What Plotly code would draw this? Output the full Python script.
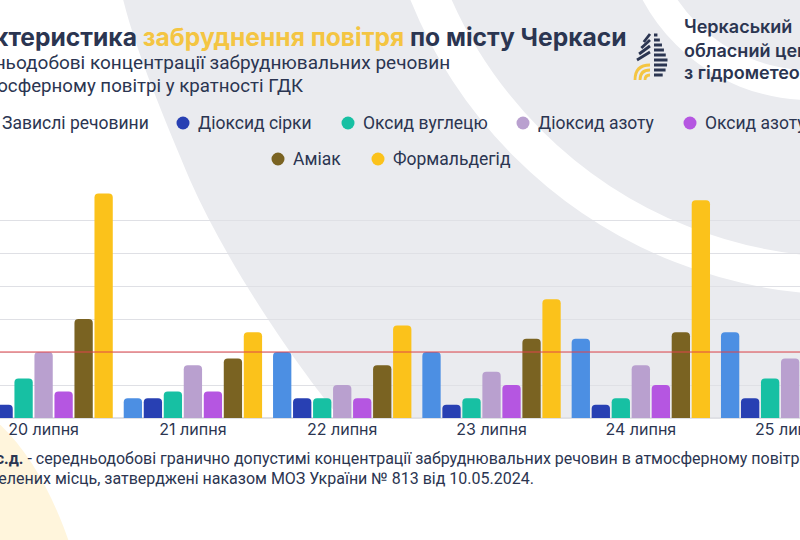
import plotly.graph_objects as go

days = ["20 липня", "21 липня", "22 липня", "23 липня", "24 липня", "25 липня"]
names = ["Завислі речовини", "Діоксид сірки", "Оксид вуглецю", "Діоксид азоту",
         "Оксид азоту", "Аміак", "Формальдегід"]
suspended = [0.6, 0.3, 1.0, 1.0, 1.2, 1.3]
so2 = [0.2, 0.3, 0.3, 0.2, 0.2, 0.3]
co = [0.6, 0.4, 0.3, 0.3, 0.3, 0.6]
no2 = [1.0, 0.8, 0.5, 0.7, 0.8, 0.9]
no = [0.4, 0.4, 0.3, 0.5, 0.5, 0.5]
nh3 = [1.5, 0.9, 0.8, 1.2, 1.3, 1.1]
hcho = [3.4, 1.3, 1.4, 1.8, 3.3, 1.6]
gdk = 1.0  # рівень ГДК

colors = ["#4C8FE3", "#2840B3", "#17C0A3", "#B9A0CF", "#B556E1", "#7A6322", "#FBC21B"]
navy = "#2B3551"

W, H, T, B = 800, 540, 187, 122


# пікселі -> paper
def X(p):
    return p / W


def Y(p):
    return (H - B - p) / (H - T - B)


def P(x, y):
    return f"{X(x):.5f},{Y(y):.5f}"


fig = go.Figure()
for name, vals, c in zip(names, [suspended, so2, co, no2, no, nh3, hcho], colors):
    fig.add_trace(go.Bar(x=days, y=vals, name=name, marker_color=c, marker_line_width=0))

shapes = []
# фон
shapes.append(dict(type="path", xref="paper", yref="paper", layer="below", line_width=0,
                   fillcolor="#EAEBEF",
                   path=f"M {P(122,-5)} L {P(805,-5)} L {P(805,418)} L {P(340,418)} "
                        f"C {P(300,370)} {P(230,270)} {P(190,180)} C {P(165,120)} {P(135,50)} {P(122,-5)} Z"))
for cx, cy, r, lw in [(848, -177, 453, 38), (810, -90, 175, 30)]:
    shapes.append(dict(type="circle", xref="paper", yref="paper", layer="below",
                       x0=X(cx - r), x1=X(cx + r), y0=Y(cy + r), y1=Y(cy - r),
                       line=dict(color="white", width=lw)))
shapes.append(dict(type="path", xref="paper", yref="paper", layer="below", line_width=0,
                   fillcolor="#FFF5DC",
                   path=f"M {P(-5,420)} C {P(30,450)} {P(55,500)} {P(70,545)} L {P(-5,545)} Z"))

# лінія ГДК
shapes.append(dict(type="line", xref="paper", yref="y", x0=0, x1=1, y0=gdk, y1=gdk,
                   layer="above", line=dict(color="#E0454A", width=1.2)))


# логотип (спрощено)
def half(y):
    if y < 60:
        return 16 * max((y - 27) / 33, 0) ** 0.7
    return 16 * max(1 - ((y - 60) / 21) ** 2, 0) ** 0.5


for yy in range(35, 80, 5):
    shapes.append(dict(type="line", xref="paper", yref="paper", layer="above",
                       x0=X(654), x1=X(652 + half(yy) - 0.5), y0=Y(yy), y1=Y(yy),
                       line=dict(color=navy, width=3)))
for yy in [37, 43, 49, 55]:
    x_start = 652 - half(yy + 5) + 1
    shapes.append(dict(type="line", xref="paper", yref="paper", layer="above",
                       x0=X(x_start), x1=X(650), y0=Y(yy + 5), y1=Y(yy - 3),
                       line=dict(color=navy, width=2.8)))
for r in [5, 10, 15]:
    shapes.append(dict(type="path", xref="paper", yref="paper", layer="above",
                       path=f"M {P(650 - r, 80)} Q {P(650 - r, 80 - r)} {P(650, 80 - r)}",
                       line=dict(color="#F4C542", width=2.8)))

# легенда
leg_font = dict(family="Roboto", size=17.5, color=navy)
row1 = [-14, 183, 348, 523, 690]
row2 = [278, 378]
ann = []
for i, mx in enumerate(row1 + row2):
    my = 123 if i < len(row1) else 159
    shapes.append(dict(type="circle", xref="paper", yref="paper", layer="above",
                       x0=X(mx - 6.5), x1=X(mx + 6.5), y0=Y(my - 6.5), y1=Y(my + 6.5),
                       fillcolor=colors[i], line_width=0))
    ann.append(dict(text=names[i], x=X(max(mx + 13, 0)), y=Y(my), xanchor="left", yanchor="middle",
                    font=leg_font))

ann.append(dict(text="<b>Характеристика <span style='color:#F4C542'>забруднення повітря</span> по місту Черкаси</b>",
                x=X(629), y=Y(37), xanchor="right", yanchor="middle",
                font=dict(family="Inter", size=24.6, color=navy)))
ann.append(dict(text="Середньодобові концентрації забруднювальних речовин",
                x=X(452), y=Y(62), xanchor="right", yanchor="middle",
                font=dict(family="Roboto", size=19, color=navy)))
ann.append(dict(text="в атмосферному повітрі у кратності ГДК",
                x=X(305), y=Y(86), xanchor="right", yanchor="middle",
                font=dict(family="Roboto", size=18.7, color=navy)))
for txt, yy in [("Черкаський", 27), ("обласний центр", 50), ("з гідрометеорології", 72)]:
    ann.append(dict(text=txt, x=X(682), y=Y(yy), xanchor="left", yanchor="middle",
                    font=dict(family="Inter", size=18, color=navy, weight=600)))
ann.append(dict(text="<b>ГДКс.д.</b> - середньодобові гранично допустимі концентрації забруднювальних речовин в атмосферному повітрі",
                x=X(-36), y=Y(458), xanchor="left", yanchor="middle",
                font=dict(family="Roboto", size=16, color=navy)))
ann.append(dict(text="населених місць, затверджені наказом МОЗ України № 813 від 10.05.2024.",
                x=X(536), y=Y(478), xanchor="right", yanchor="middle",
                font=dict(family="Roboto", size=16, color=navy)))

for a in ann:
    a.update(xref="paper", yref="paper", showarrow=False)

fig.update_layout(
    width=W, height=H,
    margin=dict(l=0, r=0, t=T, b=B, autoexpand=False),
    paper_bgcolor="white", plot_bgcolor="rgba(0,0,0,0)",
    barmode="group", bargap=0.062, bargroupgap=0.085, barcornerradius=4,
    showlegend=False,
    shapes=shapes, annotations=ann,
    xaxis=dict(type="category", range=[-0.292, 5.066], showgrid=False, ticks="",
               automargin=False,
               tickfont=dict(family="Inter", size=16, color=navy), fixedrange=True),
    yaxis=dict(range=[0, 3.5], dtick=0.5, showticklabels=False, gridcolor="#DFE0E5",
               automargin=False,
               gridwidth=1, zeroline=True, zerolinecolor="#DFE0E5", fixedrange=True),
)

fig.write_html("out.html", config={"displayModeBar": False},
               post_script="document.body.style.margin='0px';document.body.style.overflow='hidden';")
